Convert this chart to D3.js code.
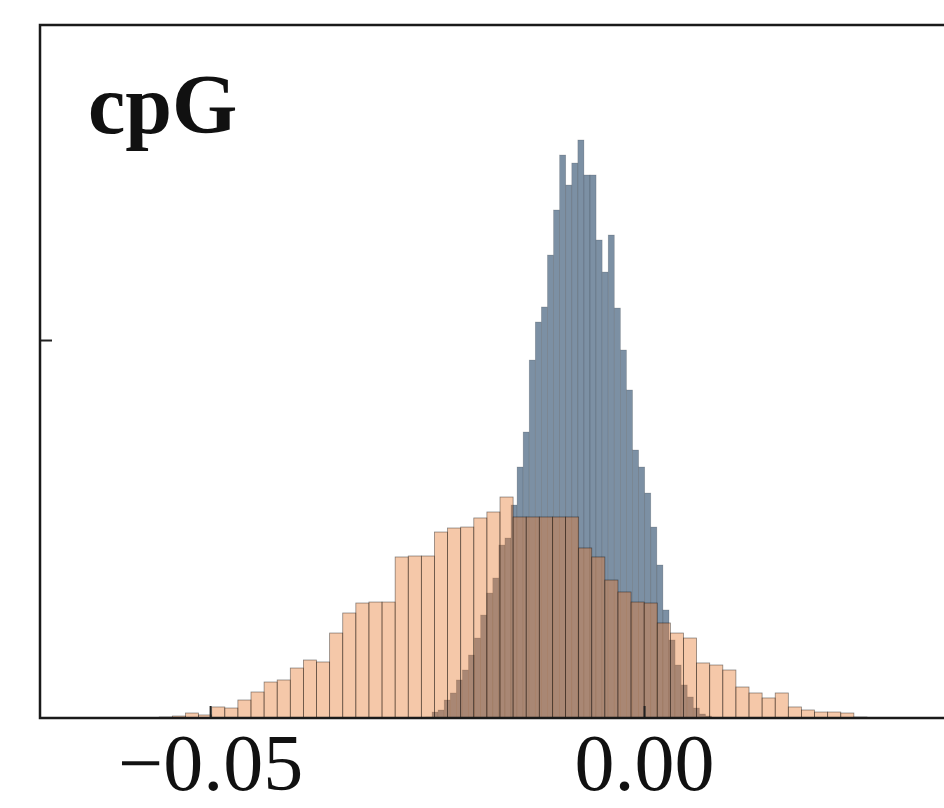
<!DOCTYPE html>
<html>
<head>
<meta charset="utf-8">
<script src="https://cdn.jsdelivr.net/npm/d3@7"></script>
<style>
  body { margin: 0; background: #fff; }
  svg { display: block; }
</style>
</head>
<body>
<div id="chart"></div>
<script>
// density histograms, bin edges = start + i * width
var orangeStart = -0.0619,
    orangeWidth = 0.00151;
var orangeDensity = [0.04, 0.04, 0.04, 0.07, 0.13, 0.26, 0.66, 0.40,
    1.46, 1.32, 2.38, 3.44, 4.76, 5.03, 6.61, 7.67, 7.41, 11.24,
    13.89, 15.21, 15.34, 15.34, 21.30, 21.43, 21.43, 24.60, 25.13, 25.26,
    26.46, 27.25, 29.23, 26.59, 26.59, 26.59, 26.59, 26.59,
    22.49, 21.30, 18.25, 16.67, 15.34, 15.21, 12.57, 11.24, 10.58,
    7.28, 7.01, 6.35, 4.10, 3.31, 2.65, 3.31, 1.46, 1.06, 0.79, 0.79, 0.66, 0.13, 0.07];

var blueStart = -0.02513,
    blueWidth = 0.0007;
var blueDensity = [0.13, 0.79, 1.06, 2.38, 3.31, 5.03, 6.35, 8.33, 10.58, 13.62,
    16.53, 18.52, 22.88, 23.81, 28.17, 33.20, 37.83, 47.35, 52.38, 54.37,
    61.24, 67.20, 74.47, 70.50, 73.41, 76.46, 71.83, 71.83, 63.23, 58.99,
    63.89, 54.23, 48.68, 43.39, 35.45, 33.20, 29.76, 25.26, 20.24, 14.29,
    10.32, 7.01, 4.37, 2.78, 1.32, 0.53, 0.26];

var xTicks = [-0.05, 0.00];
var yTicks = [50];
var panelLabel = "cpG";

var svgWidth = 944,
    svgHeight = 808,
    plotLeft = 40,
    plotRight = 960,
    plotTop = 25,
    plotBottom = 718;

var x = d3.scaleLinear()
    .domain([-0.0696, 0.0364])
    .range([plotLeft, plotRight]);

var y = d3.scaleLinear()
    .domain([0, 91.67])
    .range([plotBottom, plotTop]);

var svg = d3.select("#chart").append("svg")
    .attr("width", svgWidth)
    .attr("height", svgHeight);

function bins(start, w, values) {
    return values.map(function(v, i) {
        return { x0: start + i * w, x1: start + (i + 1) * w, v: v };
    });
}

svg.append("g")
    .attr("class", "blue")
    .selectAll("rect")
    .data(bins(blueStart, blueWidth, blueDensity))
    .enter().append("rect")
    .attr("x", function(d) { return x(d.x0); })
    .attr("width", function(d) { return x(d.x1) - x(d.x0); })
    .attr("y", function(d) { return y(d.v); })
    .attr("height", function(d) { return plotBottom - y(d.v); })
    .attr("fill", "rgb(124,144,164)")
    .attr("stroke", "#000")
    .attr("stroke-width", 0.7)
    .attr("stroke-opacity", 0.2);

svg.append("g")
    .attr("class", "orange")
    .selectAll("rect")
    .data(bins(orangeStart, orangeWidth, orangeDensity))
    .enter().append("rect")
    .attr("x", function(d) { return x(d.x0); })
    .attr("width", function(d) { return x(d.x1) - x(d.x0); })
    .attr("y", function(d) { return y(d.v); })
    .attr("height", function(d) { return plotBottom - y(d.v); })
    .attr("fill", "rgb(230,125,50)")
    .attr("fill-opacity", 0.42)
    .attr("stroke", "#000")
    .attr("stroke-width", 0.8)
    .attr("stroke-opacity", 0.45);

var xAxis = svg.append("g")
    .attr("transform", "translate(0," + plotBottom + ")")
    .call(d3.axisBottom(x)
        .tickValues(xTicks)
        .tickSize(-12)
        .tickPadding(15)
        .tickFormat(function(d) { return d3.format(".2f")(d).replace("-", "\u2212"); }));
xAxis.select(".domain").remove();
xAxis.selectAll("line").attr("stroke", "#222").attr("stroke-width", 2);
xAxis.selectAll("text")
    .attr("fill", "#111")
    .style("font-family", "'Liberation Serif', 'DejaVu Serif', serif")
    .style("font-size", "80px");

var yAxis = svg.append("g")
    .attr("transform", "translate(" + plotLeft + ",0)")
    .call(d3.axisLeft(y)
        .tickValues(yTicks)
        .tickSize(-12)
        .tickFormat(""));
yAxis.select(".domain").remove();
yAxis.selectAll("line").attr("stroke", "#222").attr("stroke-width", 2);

// spines
svg.append("rect")
    .attr("x", plotLeft)
    .attr("y", plotTop)
    .attr("width", plotRight - plotLeft)
    .attr("height", plotBottom - plotTop)
    .attr("fill", "none")
    .attr("stroke", "#1a1a1a")
    .attr("stroke-width", 2.5);

svg.append("text")
    .attr("x", 88)
    .attr("y", 133)
    .attr("fill", "#111")
    .style("font-family", "'Liberation Serif', 'DejaVu Serif', serif")
    .style("font-weight", "bold")
    .style("font-size", "84px")
    .text(panelLabel);
</script>
</body>
</html>
